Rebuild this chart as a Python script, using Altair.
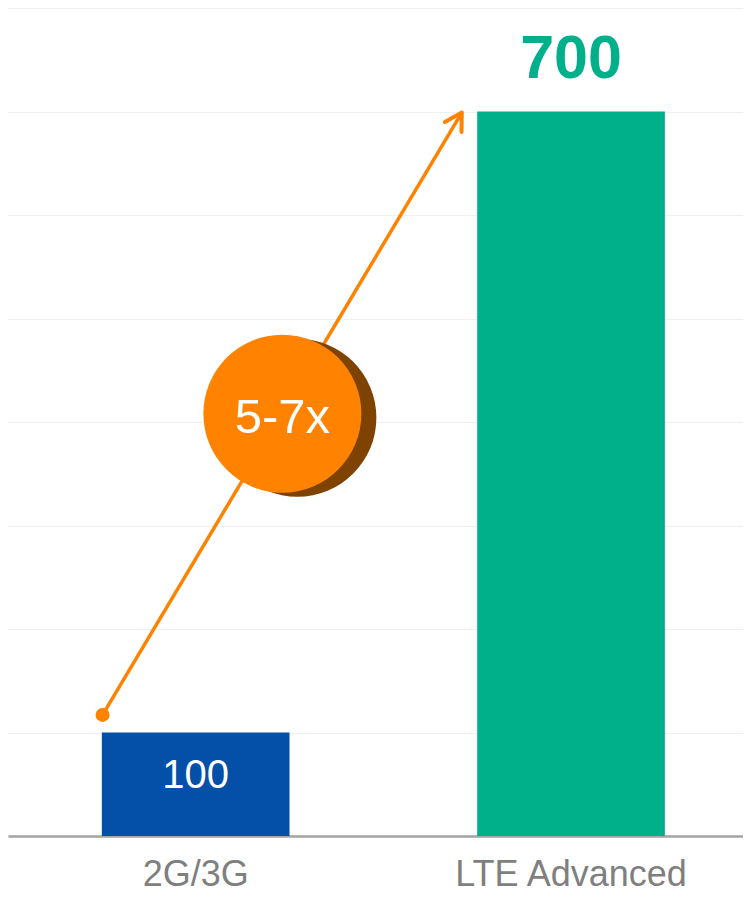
import altair as alt
import pandas as pd

# ---- data ----
categories = ["2G/3G", "LTE Advanced"]
values = [100, 700]
bar_colors = ["#0450A8", "#00B08B"]
value_labels = ["100", "700"]

# annotation (x in band-step units of the category axis, y in data units)
arrow_x = [0.252]
arrow_y = [117]
arrow_x2 = [1.209]
arrow_y2 = [699]
badge_x = [0.731]
badge_y = [408]
badge_text = ["5-7x"]

ORANGE = "#FF8200"
SHADOW = "#7E4300"
FONT = "Liberation Sans"
BAND_RANGE = [0, 750.7]

bars_df = pd.DataFrame({"cat": categories, "value": values, "label": value_labels})
arrow_df = pd.DataFrame({"x": arrow_x, "y": arrow_y, "x2": arrow_x2, "y2": arrow_y2})
badge_df = pd.DataFrame({"x": badge_x, "y": badge_y, "t": badge_text})

yscale = alt.Scale(domain=[0, 800], nice=False, zero=True)


def yenc(field):
    return alt.Y(field, type="quantitative", scale=yscale,
                 axis=alt.Axis(title=None, labels=False, ticks=False, domain=False,
                               values=list(range(0, 801, 100)),
                               gridColor="#EFEFEF", gridWidth=1))


xband = alt.X("cat:N", sort=categories,
              scale=alt.Scale(paddingInner=0.5, paddingOuter=0.25, range=BAND_RANGE),
              axis=alt.Axis(title=None, labelAngle=0, labelFontSize=36, labelLimit=0,
                            labelColor="#7F7F7F", labelFont=FONT, labelPadding=21,
                            ticks=False, domainColor="#A3A3A3", domainWidth=2.5,
                            grid=False))

base = alt.Chart(bars_df)
bars = base.mark_bar().encode(
    x=xband, y=yenc("value"),
    color=alt.Color("cat:N", scale=alt.Scale(domain=categories, range=bar_colors), legend=None),
)
lbl_small = base.transform_filter(alt.datum.cat == categories[0]).transform_calculate(
    mid="datum.value / 2"
).mark_text(color="white", fontSize=40, font=FONT, baseline="alphabetic", dy=4).encode(
    x=xband, y=yenc("mid"), text="label:N"
)
lbl_big = base.transform_filter(alt.datum.cat == categories[1]).mark_text(
    color=bar_colors[1], fontSize=61, font=FONT, fontWeight="bold", baseline="alphabetic", dy=-34
).encode(x=xband, y=yenc("value"), text="label:N")

cats = alt.layer(bars, lbl_small, lbl_big)

xq = alt.Scale(domain=[0, 2], nice=False, zero=False, range=BAND_RANGE)


def xenc(field):
    return alt.X(field, type="quantitative", scale=xq, axis=None)


arrow = alt.Chart(arrow_df)
shaft = arrow.mark_rule(color=ORANGE, strokeWidth=3.5).encode(
    x=xenc("x"), y=yenc("y"), x2="x2", y2="y2"
)
dot = arrow.mark_circle(color=ORANGE, opacity=1, size=196).encode(x=xenc("x"), y=yenc("y"))
head = arrow.mark_point(
    shape="M-0.5,0.866L0,0L0.5,0.866", filled=False, stroke=ORANGE, strokeWidth=4,
    strokeCap="round", strokeJoin="round", size=1500, angle=31, opacity=1
).encode(x=xenc("x2"), y=yenc("y2"))

badge = alt.Chart(badge_df)
shadow = badge.mark_circle(color=SHADOW, opacity=1, size=24964, xOffset=15, yOffset=4).encode(
    x=xenc("x"), y=yenc("y"))
circle = badge.mark_circle(color=ORANGE, opacity=1, size=24964).encode(x=xenc("x"), y=yenc("y"))
btext = badge.mark_text(color="white", fontSize=49, font=FONT, baseline="alphabetic", dy=19).encode(
    x=xenc("x"), y=yenc("y"), text="t:N")

ann = alt.layer(shaft, dot, head, shadow, circle, btext)

chart = alt.layer(cats, ann).resolve_scale(x="independent").properties(
    width=735, height=828,
    background="white",
    autosize=alt.AutoSizeParams(type="none"),
    padding={"left": 0, "top": 0, "right": 0, "bottom": 53},
).configure_view(strokeWidth=0, stroke="transparent")

chart.save("out.html", embed_options={"renderer": "svg", "actions": False})
